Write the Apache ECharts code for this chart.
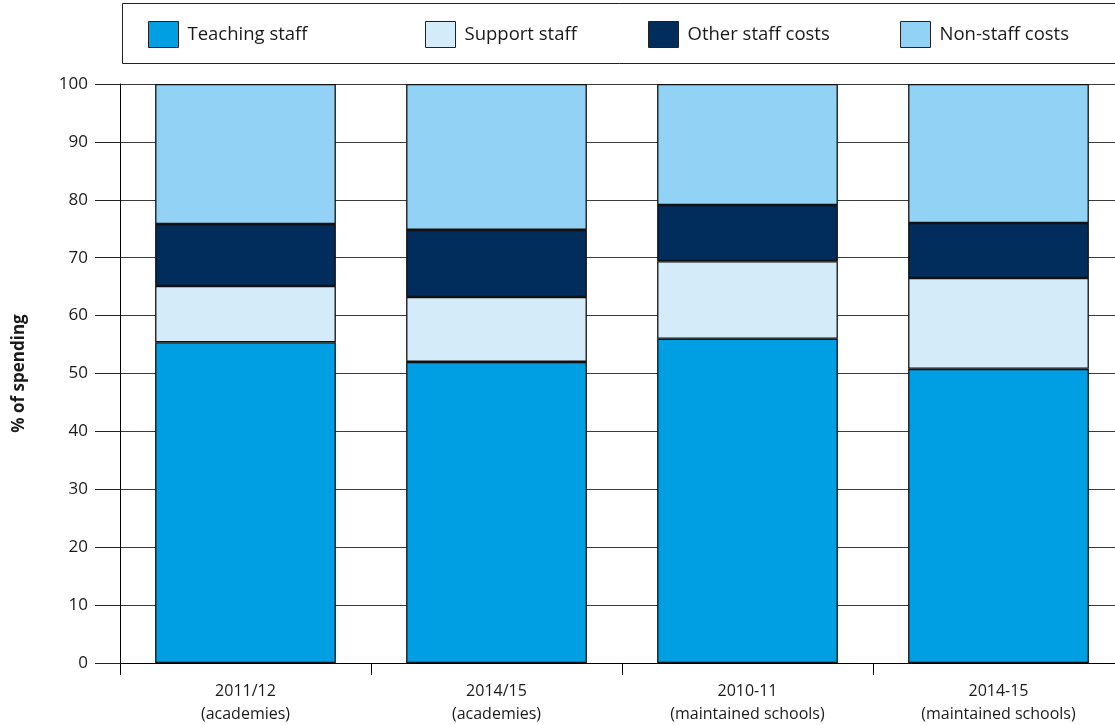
<!DOCTYPE html>
<html>
<head>
<meta charset="utf-8">
<script src="https://cdn.jsdelivr.net/npm/echarts@6/dist/echarts.min.js"></script>
<style>
  html, body { margin: 0; padding: 0; background: #fff; }
  #chart { width: 1115px; height: 725px; }
</style>
</head>
<body>
<div id="chart"></div>
<script>
// categories (two-line labels)
const categories = [
  '2011/12\n(academies)',
  '2014/15\n(academies)',
  '2010-11\n(maintained schools)',
  '2014-15\n(maintained schools)'
]
// series values, % of spending
const teachingStaff = [55.4, 52.0, 56.0, 50.8]
const supportStaff = [9.7, 11.2, 13.4, 15.7]
const otherStaffCosts = [10.7, 11.6, 9.7, 9.5]
const nonStaffCosts = [24.2, 25.2, 20.9, 24.0]

const seriesNames = ['Teaching staff', 'Support staff', 'Other staff costs', 'Non-staff costs']
const seriesColors = ['#009fe3', '#d4ebfa', '#002d5c', '#92d3f5']
const seriesData = [teachingStaff, supportStaff, otherStaffCosts, nonStaffCosts]

const fontFamily = 'Open Sans'
const legendLeft = [148, 425, 648, 900]

const chart = echarts.init(document.getElementById('chart'))

chart.setOption({
  animation: false,
  textStyle: { fontFamily: fontFamily },
  // one legend per item so the uneven spacing matches
  legend: seriesNames.map((name, i) => ({
    data: [name],
    left: legendLeft[i],
    top: 21,
    icon: 'rect',
    itemWidth: 30,
    itemHeight: 26,
    itemGap: 0,
    padding: 0,
    selectedMode: false,
    itemStyle: { borderColor: '#222', borderWidth: 1 },
    textStyle: { fontSize: 18.5, color: '#1a1a1a', fontFamily: fontFamily, padding: [0, 0, 0, 4] }
  })),
  graphic: [{
    type: 'rect',
    shape: { x: 122.5, y: 3.5, width: 1000, height: 60 },
    style: { fill: 'none', stroke: '#222', lineWidth: 1 },
    z: -1
  }],
  grid: { left: 120, top: 84, width: 1004, bottom: 62, outerBoundsMode: 'none', containLabel: false },
  xAxis: {
    type: 'category',
    data: categories,
    axisLine: { lineStyle: { color: '#000', width: 1 } },
    axisTick: { show: true, length: 12, lineStyle: { color: '#000' } },
    axisLabel: { color: '#1a1a1a', fontSize: 16, margin: 17, lineHeight: 23 }
  },
  yAxis: {
    type: 'value',
    min: 0,
    max: 100,
    interval: 10,
    name: '% of spending',
    nameLocation: 'middle',
    nameGap: 92,
    nameTextStyle: { fontSize: 17, fontWeight: 'bold', color: '#1a1a1a' },
    axisLine: { show: true, lineStyle: { color: '#000', width: 1 } },
    axisTick: { show: true, length: 25, lineStyle: { color: '#222' } },
    axisLabel: { color: '#1a1a1a', fontSize: 17, margin: 32 },
    splitLine: { show: true, lineStyle: { color: '#3a3a3a', width: 1 } }
  },
  series: seriesData.map((values, i) => ({
    name: seriesNames[i],
    type: 'bar',
    stack: 'total',
    barWidth: '72%',
    data: values,
    itemStyle: { color: seriesColors[i], borderColor: '#111', borderWidth: 1.3 }
  }))
})
</script>
</body>
</html>
